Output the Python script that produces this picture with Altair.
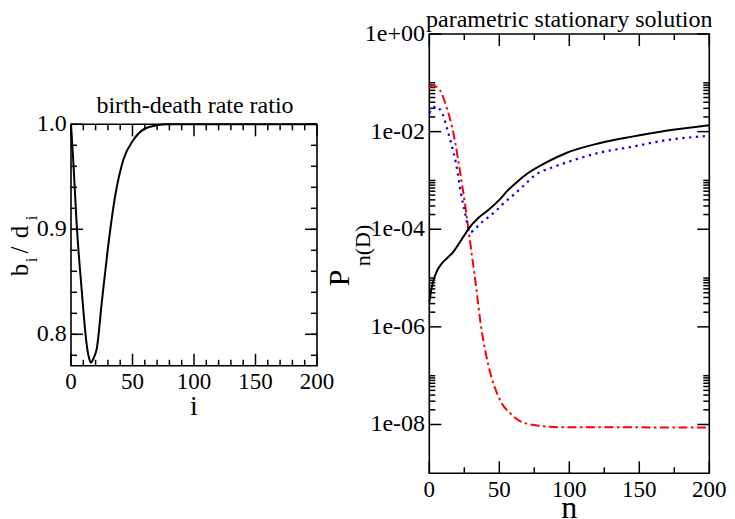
import altair as alt
import pandas as pd

# ---------------- data ----------------
# left panel: birth-death rate ratio b_i/d_i
ratio_i = [0, 2, 4.6, 8.7, 11.4, 13, 15, 16.3, 17.5, 19, 20.9, 24.9, 29.8, 35.8, 42.5, 50.7, 60.2, 69.6, 79, 100, 200]
ratio_v = [1.0, 0.962, 0.905, 0.842, 0.805, 0.788, 0.776, 0.773, 0.775, 0.779, 0.786, 0.829, 0.880, 0.931, 0.966, 0.985, 0.996, 0.999, 1.0, 1.0, 1.0]

# right panel: parametric stationary solution P_n(D)
n_black = [0, 2, 4, 6, 9, 13, 17, 21, 25, 28.4, 35, 42.4, 50, 56.4, 63, 70.3, 84.3, 98.3, 121.5, 144.8, 168, 200]
p_black = [3.2e-6, 7e-6, 1.1e-5, 1.5e-5, 2.0e-5, 2.6e-5, 3.4e-5, 5.0e-5, 7.5e-5, 1.05e-4, 1.7e-4, 2.5e-4,
           4.0e-4, 6.4e-4, 9.5e-4, 1.4e-3, 2.4e-3, 3.7e-3, 5.8e-3, 7.9e-3, 1.03e-2, 1.35e-2]

n_blue = [0, 3, 5, 7, 9.8, 12.5, 15.6, 19.1, 22.6, 26.1, 27.5, 29.5, 33, 37, 42, 47, 53, 60, 68, 75, 89, 103, 121.5, 145, 168, 200]
p_blue = [2.4e-2, 3.1e-2, 3.3e-2, 3.0e-2, 2.2e-2, 1.2e-2, 5.8e-3, 2.2e-3, 5.5e-4, 1.8e-4, 1.15e-4, 8.7e-5,
          1.05e-4, 1.35e-4, 1.75e-4, 2.3e-4, 3.4e-4, 5.0e-4, 8.1e-4, 1.25e-3, 1.9e-3, 2.6e-3, 3.7e-3,
          4.9e-3, 6.6e-3, 8.2e-3]

n_red = [0, 2.8, 5, 7.5, 10, 12.1, 15.6, 18.5, 21.4, 26.1, 29.6, 33.1, 36.8, 42.4, 49.4, 58.7, 70.3, 93.6, 200]
p_red = [8.0e-2, 8.8e-2, 8.3e-2, 7.1e-2, 5.0e-2, 3.3e-2, 1.5e-2, 6e-3, 1.9e-3, 2.5e-4, 4.4e-5, 7.9e-6,
         1.1e-6, 1.55e-7, 3.7e-8, 1.6e-8, 1.03e-8, 8.8e-9, 8.7e-9]

# axes: domains, ticks and tick labels
left_x_domain = [0, 200]
left_y_domain = [0.77, 1.0]
right_x_domain = [0, 200]
right_y_domain = [1e-9, 1.0]

left_x_ticks = [0, 50, 100, 150, 200]
left_x_labels = ["0", "50", "100", "150", "200"]
left_x_minor = [10, 20, 30, 40, 60, 70, 80, 90, 110, 120, 130, 140, 160, 170, 180, 190]
left_y_ticks = [0.8, 0.9, 1.0]
left_y_labels = ["0.8", "0.9", "1.0"]
left_y_minor = [0.78, 0.80, 0.82, 0.84, 0.86, 0.88, 0.90, 0.92, 0.94, 0.96, 0.98, 1.00]

right_x_ticks = [0, 50, 100, 150, 200]
right_x_labels = ["0", "50", "100", "150", "200"]
right_x_minor = [25, 75, 125, 175]
right_y_ticks = [1.0, 1e-2, 1e-4, 1e-6, 1e-8]
right_y_labels = ["1e+00", "1e-02", "1e-04", "1e-06", "1e-08"]
minor_mantissas = [2, 3, 4, 5, 6, 7, 8, 9, 10]
minor_decades = [1e-2, 1e-4, 1e-6, 1e-8]
right_y_minor = [m * d for d in minor_decades for m in minor_mantissas]

left_title = "birth-death rate ratio"
right_title = "parametric stationary solution"

# ---------------- layout / style ----------------
FONT = "Liberation Serif"
LW, H = 246, 439.3
LTOP, LBOT = 90.3, 331.8
RW = 280
GAP = 112.3
MAJ, MIN = 12, 6
TICKW = 1.5

lx = alt.Scale(domain=left_x_domain, nice=False, zero=False)
ly = alt.Scale(domain=left_y_domain, range=[LBOT, LTOP], nice=False, zero=False)
rx = alt.Scale(domain=right_x_domain, nice=False, zero=False)
ry = alt.Scale(type="log", domain=right_y_domain, nice=False)


def X(f, s):
    return alt.X(f"{f}:Q", scale=s, axis=None)


def Y(f, s):
    return alt.Y(f"{f}:Q", scale=s, axis=None)


def vticks(vals, s, y0, y1):
    return alt.Chart(pd.DataFrame({"v": vals})).mark_rule(color="black", strokeWidth=TICKW).encode(
        x=X("v", s), y=alt.value(y0), y2=alt.value(y1))


def hticks(vals, s, x0, x1):
    return alt.Chart(pd.DataFrame({"v": vals})).mark_rule(color="black", strokeWidth=TICKW).encode(
        y=Y("v", s), x=alt.value(x0), x2=alt.value(x1))


def xlabels(vals, labs, s, ybase):
    return alt.Chart(pd.DataFrame({"v": vals, "t": labs})).mark_text(
        font=FONT, fontSize=23, color="black", align="center", baseline="alphabetic").encode(
        x=X("v", s), y=alt.value(ybase), text="t:N")


def ylabels(vals, labs, s):
    return alt.Chart(pd.DataFrame({"v": vals, "t": labs})).mark_text(
        font=FONT, fontSize=24, color="black", align="right", baseline="middle").encode(
        y=Y("v", s), x=alt.value(-4.3), text="t:N")


def frame(xd, yd, sx, sy):
    df = pd.DataFrame({"x0": [xd[0]], "x1": [xd[1]], "y0": [yd[0]], "y1": [yd[1]]})
    return alt.Chart(df).mark_rect(filled=False, stroke="black", strokeWidth=1.6).encode(
        x=X("x0", sx), x2="x1:Q", y=Y("y0", sy), y2="y1:Q")


def txt(s, x, y, size, angle=0):
    props = dict(font=FONT, fontSize=size, color="black", align="center", baseline="alphabetic")
    if angle:
        props["angle"] = angle
    return alt.Chart(pd.DataFrame({"t": [s]})).mark_text(**props).encode(
        x=alt.value(x), y=alt.value(y), text="t:N")


# ---------------- left panel ----------------
left_line = alt.Chart(pd.DataFrame({"i": ratio_i, "v": ratio_v})).mark_line(
    color="black", strokeWidth=2, interpolate="monotone").encode(x=X("i", lx), y=Y("v", ly))

left = alt.layer(
    frame(left_x_domain, left_y_domain, lx, ly),
    vticks(left_x_ticks, lx, LBOT, LBOT - MAJ),
    vticks(left_x_minor, lx, LBOT, LBOT - MIN),
    vticks(left_x_ticks, lx, LTOP, LTOP + MAJ),
    vticks(left_x_minor, lx, LTOP, LTOP + MIN),
    hticks(left_y_ticks, ly, 0, MAJ),
    hticks(left_y_minor, ly, 0, MIN),
    hticks(left_y_ticks, ly, LW, LW - MAJ),
    hticks(left_y_minor, ly, LW, LW - MIN),
    left_line,
    xlabels(left_x_ticks, left_x_labels, lx, LBOT + 23.5),
    ylabels(left_y_ticks, left_y_labels, ly),
    txt(left_title, 124, 79.3, 24),
    txt("i", 123, 381, 28),
    txt("b", -43, 236, 25, 270),
    txt("i", -34, 226, 17, 270),
    txt("/", -43, 216, 25, 270),
    txt("d", -43, 198, 25, 270),
    txt("i", -34, 184, 17, 270),
).properties(width=LW, height=H)

# ---------------- right panel ----------------
black = alt.Chart(pd.DataFrame({"n": n_black, "p": p_black})).mark_line(
    color="black", strokeWidth=2, interpolate="monotone").encode(x=X("n", rx), y=Y("p", ry))
blue = alt.Chart(pd.DataFrame({"n": n_blue, "p": p_blue})).mark_line(
    color="#0000ff", strokeWidth=2.2, strokeDash=[2.3, 4.5], interpolate="monotone").encode(
    x=X("n", rx), y=Y("p", ry))
red = alt.Chart(pd.DataFrame({"n": n_red, "p": p_red})).mark_line(
    color="#ff0000", strokeWidth=2, strokeDash=[9, 3.5, 2.5, 3.5], interpolate="monotone").encode(
    x=X("n", rx), y=Y("p", ry))

right = alt.layer(
    frame(right_x_domain, right_y_domain, rx, ry),
    vticks(right_x_ticks, rx, H, H - MAJ),
    vticks(right_x_minor, rx, H, H - MIN),
    vticks(right_x_ticks, rx, 0, MAJ),
    vticks(right_x_minor, rx, 0, MIN),
    hticks(right_y_ticks, ry, 0, MAJ),
    hticks(right_y_minor, ry, 0, MIN),
    hticks(right_y_ticks, ry, RW, RW - MAJ),
    hticks(right_y_minor, ry, RW, RW - MIN),
    red, blue, black,
    xlabels(right_x_ticks, right_x_labels, rx, H + 23.4),
    ylabels(right_y_ticks, right_y_labels, ry),
    txt(right_title, RW / 2, -7, 24),
    txt("n", RW / 2, 484, 32),
    txt("P", -80, 244, 30, 270),
    txt("n(D)", -59.3, 211.5, 22, 270),
).properties(width=RW, height=H)

chart = alt.hconcat(left, right, spacing=GAP, bounds="flush").properties(
    padding=0
).configure_view(strokeWidth=0)

chart.save("out.html", embed_options={"renderer": "svg", "actions": False})
